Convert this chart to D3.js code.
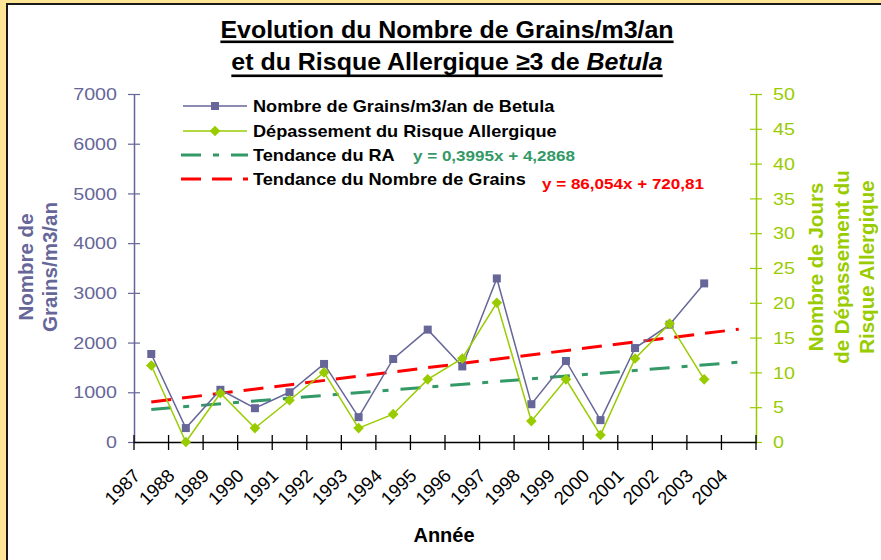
<!DOCTYPE html>
<html>
<head>
<meta charset="utf-8">
<script src="https://cdn.jsdelivr.net/npm/d3@7"></script>
<style>
  body { margin: 0; background: #fff; }
  svg { display: block; font-family: "Liberation Sans", Arial, sans-serif; }
</style>
</head>
<body>
<div id="chart"></div>
<script>
// ----------------------
// Data
// ----------------------
const years = ["1987", "1988", "1989", "1990", "1991", "1992", "1993", "1994", "1995",
               "1996", "1997", "1998", "1999", "2000", "2001", "2002", "2003", "2004"];
const grains = [1770, 280, 1050, 680, 1000, 1570, 500, 1670, 2260, 1520, 3290, 760, 1630, 440, 1890, 2360, 3190];
const depassements = [11, 0, 7, 2, 6, 10, 2, 4, 9, 12, 20, 3, 9, 1, 12, 17, 9];
const grainTicks = [0, 1000, 2000, 3000, 4000, 5000, 6000, 7000];
const dayTicks = [0, 5, 10, 15, 20, 25, 30, 35, 40, 45, 50];

// trendlines shown on the chart: y = slope * x + intercept (x = 1 for 1987)
const trendRA = [0.3995, 4.2868];
const trendGrains = [86.054, 720.81];
const trendSpan = [1, 18];

const legendLabels = ["Nombre de Grains/m3/an de Betula", "Dépassement du Risque Allergique",
                      "Tendance du RA", "Tendance du Nombre de Grains"];
const eqRA = "y = 0,3995x + 4,2868";
const eqGrains = "y = 86,054x + 720,81";

// ----------------------
// Setup
// ----------------------
const W = 881, H = 560;
const plot = { left: 134, right: 756, top: 94, bottom: 442 };
const purple = "#666699", lime = "#99CC00", teal = "#339966", red = "#FF0000";

const svg = d3.select("#chart").append("svg")
    .attr("width", W)
    .attr("height", H);

// frame
svg.append("rect").attr("width", W).attr("height", H).attr("fill", "#FFE797");
svg.append("rect")
    .attr("x", 7).attr("y", 4)
    .attr("width", W).attr("height", H)
    .attr("fill", "#fff")
    .attr("stroke", "#1a1a1a")
    .attr("stroke-width", 2);

// scales
const x = d3.scaleBand().domain(years).range([plot.left, plot.right]);
const cx = yr => x(yr) + x.bandwidth() / 2;
const yL = d3.scaleLinear().domain([0, 7000]).range([plot.bottom, plot.top]);
const yR = d3.scaleLinear().domain([0, 50]).range([plot.bottom, plot.top]);
// trend x value (1 = first year) to pixel
const xt = d3.scaleLinear().domain([1, years.length]).range([cx(years[0]), cx(years[years.length - 1])]);

// ----------------------
// Title
// ----------------------
const titleLines = [
    { y: 37.5, ul: 40.5, parts: [["Evolution du Nombre de Grains/m3/an", "normal"]] },
    { y: 70, ul: 74.5, parts: [["et du Risque Allergique ≥3 de ", "normal"], ["Betula", "italic"]] }
];
titleLines.forEach(line => {
    const t = svg.append("text")
        .attr("transform", `translate(447,${line.y}) scale(1.04,1)`)
        .attr("text-anchor", "middle")
        .attr("font-size", 24)
        .attr("font-weight", "bold")
        .attr("fill", "#000");
    line.parts.forEach(p => t.append("tspan").attr("font-style", p[1]).text(p[0]));
    const w = t.node().getComputedTextLength() * 1.04;
    svg.append("rect")
        .attr("x", 447 - w / 2).attr("y", line.ul)
        .attr("width", w).attr("height", 2.6)
        .attr("fill", "#000");
});

// ----------------------
// Axes
// ----------------------
const gL = svg.append("g").attr("transform", `translate(${plot.left},0)`)
    .call(d3.axisLeft(yL).tickValues(grainTicks).tickFormat(d3.format("d")).tickSize(6).tickSizeOuter(0));
gL.select(".domain").attr("stroke", purple).attr("stroke-width", 1.5);
gL.selectAll(".tick line").attr("x1", 6).attr("stroke", purple).attr("stroke-width", 1.2);
gL.selectAll(".tick text")
    .attr("x", null).attr("dy", null)
    .attr("transform", "translate(-17,5.7) scale(1.23,1)")
    .attr("font-size", 16)
    .attr("font-family", "Liberation Sans, Arial, sans-serif")
    .attr("fill", purple);

const gR = svg.append("g").attr("transform", `translate(${plot.right},0)`)
    .call(d3.axisRight(yR).tickValues(dayTicks).tickFormat(d3.format("d")).tickSize(6).tickSizeOuter(0));
gR.select(".domain").attr("stroke", lime).attr("stroke-width", 1.5);
gR.selectAll(".tick line").attr("x1", -6).attr("stroke", lime).attr("stroke-width", 1.2);
gR.selectAll(".tick text")
    .attr("x", null).attr("dy", null)
    .attr("transform", "translate(17,5.7) scale(1.23,1)")
    .attr("font-size", 16)
    .attr("font-family", "Liberation Sans, Arial, sans-serif")
    .attr("fill", lime);

const gX = svg.append("g").attr("transform", `translate(0,${plot.bottom})`)
    .call(d3.axisBottom(x).tickSize(0).tickSizeOuter(0));
gX.select(".domain").attr("stroke", "#000").attr("stroke-width", 1.5);
gX.selectAll(".tick text")
    .attr("y", null).attr("dy", null)
    .attr("text-anchor", "end")
    .attr("transform", "translate(-10,35) rotate(-45)")
    .attr("font-size", 18.5)
    .attr("font-family", "Liberation Sans, Arial, sans-serif")
    .attr("fill", "#000");
// category boundary ticks (crossing)
gX.selectAll(".edge")
    .data(years.map(yr => x(yr)).concat([plot.right]))
    .enter().append("line")
    .attr("x1", d => d).attr("x2", d => d)
    .attr("y1", -7).attr("y2", 8)
    .attr("stroke", "#000").attr("stroke-width", 1.3);

// axis titles
const leftTitle = ["Nombre de", "Grains/m3/an"];
leftTitle.forEach((s, i) => {
    svg.append("text")
        .attr("transform", `translate(${33 + i * 24},267) rotate(-90)`)
        .attr("text-anchor", "middle")
        .attr("font-size", 20.5).attr("font-weight", "bold")
        .attr("fill", purple).text(s);
});
const rightTitle = ["Nombre de Jours", "de Dépassement du", "Risque Allergique"];
rightTitle.forEach((s, i) => {
    svg.append("text")
        .attr("transform", `translate(${823 + i * 25.5},267) rotate(-90)`)
        .attr("text-anchor", "middle")
        .attr("font-size", 20.5).attr("font-weight", "bold")
        .attr("fill", lime).text(s);
});
svg.append("text")
    .attr("x", 444).attr("y", 541.5)
    .attr("text-anchor", "middle")
    .attr("font-size", 20).attr("font-weight", "bold")
    .attr("fill", "#000").text("Année");

// ----------------------
// Trendlines
// ----------------------
const trendLine = coef => d3.line()
    .x(d => xt(d))
    .y(d => (coef === trendRA ? yR : yL)(coef[0] * d + coef[1]));

svg.append("path")
    .attr("d", trendLine(trendRA)(trendSpan))
    .attr("fill", "none").attr("stroke", teal)
    .attr("stroke-width", 3).attr("stroke-dasharray", "20,12,6,12");
svg.append("path")
    .attr("d", trendLine(trendGrains)(trendSpan))
    .attr("fill", "none").attr("stroke", red)
    .attr("stroke-width", 3).attr("stroke-dasharray", "20,11");

// ----------------------
// Series
// ----------------------
const diamond = d3.symbol().type(d3.symbolDiamond2).size(72);

svg.append("path")
    .datum(grains)
    .attr("d", d3.line().x((d, i) => cx(years[i])).y(d => yL(d)))
    .attr("fill", "none").attr("stroke", purple).attr("stroke-width", 1.5);
svg.selectAll(".sq")
    .data(grains).enter().append("rect")
    .attr("x", (d, i) => cx(years[i]) - 4)
    .attr("y", d => yL(d) - 4)
    .attr("width", 8).attr("height", 8)
    .attr("fill", purple);

svg.append("path")
    .datum(depassements)
    .attr("d", d3.line().x((d, i) => cx(years[i])).y(d => yR(d)))
    .attr("fill", "none").attr("stroke", lime).attr("stroke-width", 1.5);
svg.selectAll(".dm")
    .data(depassements).enter().append("path")
    .attr("d", diamond)
    .attr("transform", (d, i) => `translate(${cx(years[i])},${yR(d)})`)
    .attr("fill", lime);

// ----------------------
// Legend
// ----------------------
const legRows = [106, 131, 155, 179];
const lg = svg.append("g");
lg.append("line").attr("x1", 183).attr("x2", 247).attr("y1", legRows[0]).attr("y2", legRows[0])
    .attr("stroke", purple).attr("stroke-width", 1.5);
lg.append("rect").attr("x", 211).attr("y", legRows[0] - 4).attr("width", 8).attr("height", 8).attr("fill", purple);
lg.append("line").attr("x1", 183).attr("x2", 247).attr("y1", legRows[1]).attr("y2", legRows[1])
    .attr("stroke", lime).attr("stroke-width", 1.5);
lg.append("path").attr("d", diamond).attr("transform", `translate(215,${legRows[1]})`).attr("fill", lime);
lg.append("line").attr("x1", 181).attr("x2", 248).attr("y1", legRows[2]).attr("y2", legRows[2])
    .attr("stroke", teal).attr("stroke-width", 3).attr("stroke-dasharray", "20,12,6,12");
lg.append("line").attr("x1", 181).attr("x2", 248).attr("y1", legRows[3]).attr("y2", legRows[3])
    .attr("stroke", red).attr("stroke-width", 3).attr("stroke-dasharray", "20,11");

legendLabels.forEach((s, i) => {
    lg.append("text")
        .attr("transform", `translate(253,${legRows[i] + 5.5}) scale(1.1,1)`)
        .attr("font-size", 16.5).attr("font-weight", "bold")
        .attr("fill", "#000").text(s);
});

svg.append("text")
    .attr("transform", `translate(413,${legRows[2] + 5.5}) scale(1.1,1)`)
    .attr("font-size", 15.5).attr("font-weight", "bold")
    .attr("fill", teal).text(eqRA);
svg.append("text")
    .attr("transform", "translate(542,189) scale(1.1,1)")
    .attr("font-size", 15.5).attr("font-weight", "bold")
    .attr("fill", red).text(eqGrains);
</script>
</body>
</html>
